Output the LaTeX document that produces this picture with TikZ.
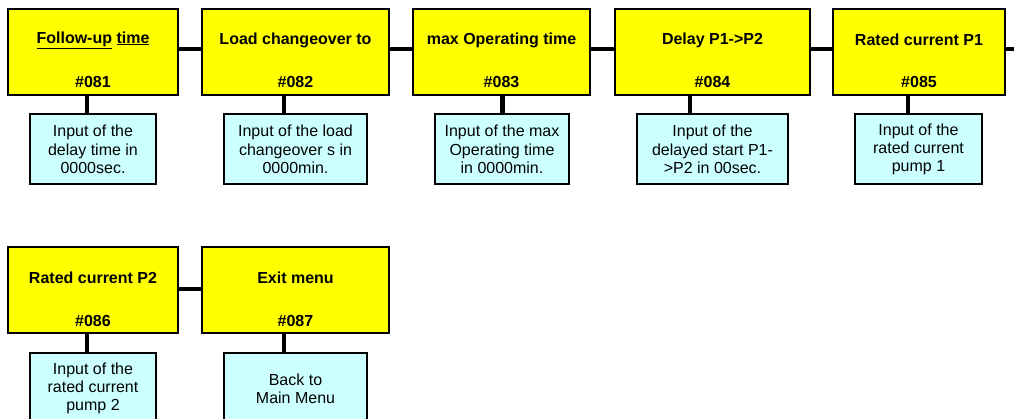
\documentclass[tikz,border=0pt]{standalone}
\usepackage{fontspec}
\setmainfont{Liberation Sans}
\definecolor{boxyellow}{HTML}{FFFF00}
\definecolor{boxcyan}{HTML}{CCFFFF}
\tikzset{
  ybox/.style={draw=black, line width=2pt, fill=boxyellow, inner sep=0pt},
  cbox/.style={draw=black, line width=2pt, fill=boxcyan, inner sep=0pt, minimum height=70pt},
  ttl/.style={font=\fontsize{16}{18}\selectfont\bfseries, inner sep=0pt},
  num/.style={font=\fontsize{16}{18}\selectfont\bfseries, inner sep=0pt},
  desc/.style={font=\fontsize{16}{18.3}\selectfont, align=center, inner sep=0pt},
  conn/.style={line width=4.5pt, line cap=butt},
}
\begin{document}
\begin{tikzpicture}[x=1pt,y=-1pt]
\useasboundingbox (0,0) rectangle (1014,418);
\clip (0,0) rectangle (1014,418);
% connectors first (behind boxes)
% Row 1 boxes
\node[ybox, minimum width=170pt, minimum height=86pt] (b1) at (93,52) {};
\node[ybox, minimum width=187pt, minimum height=86pt] (b2) at (295.5,52) {};
\node[ybox, minimum width=177pt, minimum height=86pt] (b3) at (501.5,52) {};
\node[ybox, minimum width=195pt, minimum height=86pt] (b4) at (712.5,52) {};
\node[ybox, minimum width=172pt, minimum height=86pt] (b5) at (919,52) {};
\coordinate (rend) at (1016,49);
% Row 2 boxes
\node[ybox, minimum width=170pt, minimum height=86pt] (b6) at (93,290) {};
\node[ybox, minimum width=187pt, minimum height=86pt] (b7) at (295.5,290) {};

% titles and numbers
\node[ttl] (t1) at (93,40) {\underline{Follow-up} \underline{time}};
\node[num] (n1) at (93,82) {\#081};
\node[ttl] (t2) at (295.5,40) {Load changeover to};
\node[num] (n2) at (295.5,82) {\#082};
\node[ttl] (t3) at (501.5,40) {max Operating time};
\node[num] (n3) at (501.5,82) {\#083};
\node[ttl] (t4) at (712.5,40) {Delay P1->P2};
\node[num] (n4) at (712.5,82) {\#084};
\node[ttl] (t5) at (919,40) {Rated current P1};
\node[num] (n5) at (919,82) {\#085};
\node[ttl] (t6) at (93,278) {Rated current P2};
\node[num] (n6) at (93,321) {\#086};
\node[ttl] (t7) at (295.5,278) {Exit menu};
\node[num] (n7) at (295.5,321) {\#087};

% description boxes
\node[cbox, minimum width=126pt] (d1) at (93,149) {};
\node[desc] (e1) at (93,149.5) {Input of the\\delay time in\\0000sec.};
\node[cbox, minimum width=143pt] (d2) at (295.5,149) {};
\node[desc] (e2) at (295.5,149.5) {Input of the load\\changeover s in\\0000min.};
\node[cbox, minimum width=134pt] (d3) at (502,149) {};
\node[desc] (e3) at (502,149.5) {Input of the max\\Operating time\\in 0000min.};
\node[cbox, minimum width=151pt] (d4) at (712.5,149) {};
\node[desc] (e4) at (712.5,149.5) {Input of the\\delayed start P1-\\>P2 in 00sec.};
\node[cbox, minimum width=127pt] (d5) at (918.5,149) {};
\node[desc] (e5) at (918.5,149.5) {Input of the\\rated current\\pump 1};
\node[cbox, minimum width=126pt] (d6) at (93,388) {};
\node[desc] (e6) at (93,388.5) {Input of the\\rated current\\pump 2};
\node[cbox, minimum width=143pt] (d7) at (295.5,388) {};
\node[desc] (e7) at (295.5,388.5) {Back to\\Main Menu};

% horizontal connectors
\draw[conn] (b1.east |- 0,49) -- (b2.west |- 0,49);
\draw[conn] (b2.east |- 0,49) -- (b3.west |- 0,49);
\draw[conn] (b3.east |- 0,49) -- (b4.west |- 0,49);
\draw[conn] (b4.east |- 0,49) -- (b5.west |- 0,49);
\draw[conn] (b5.east |- rend) -- (rend);
\draw[conn] (b6.east |- 0,289) -- (b7.west |- 0,289);
% vertical connectors
\draw[conn] ([xshift=-6pt]b1.south) -- ([xshift=-6pt]b1.south |- d1.north);
\draw[conn] ([xshift=-11.5pt]b2.south) -- ([xshift=-11.5pt]b2.south |- d2.north);
\draw[conn] ([xshift=1pt]b3.south) -- ([xshift=1pt]b3.south |- d3.north);
\draw[conn] ([xshift=-22.5pt]b4.south) -- ([xshift=-22.5pt]b4.south |- d4.north);
\draw[conn] ([xshift=-11pt]b5.south) -- ([xshift=-11pt]b5.south |- d5.north);
\draw[conn] ([xshift=-6pt]b6.south) -- ([xshift=-6pt]b6.south |- d6.north);
\draw[conn] ([xshift=-11.5pt]b7.south) -- ([xshift=-11.5pt]b7.south |- d7.north);
\end{tikzpicture}
\end{document}
